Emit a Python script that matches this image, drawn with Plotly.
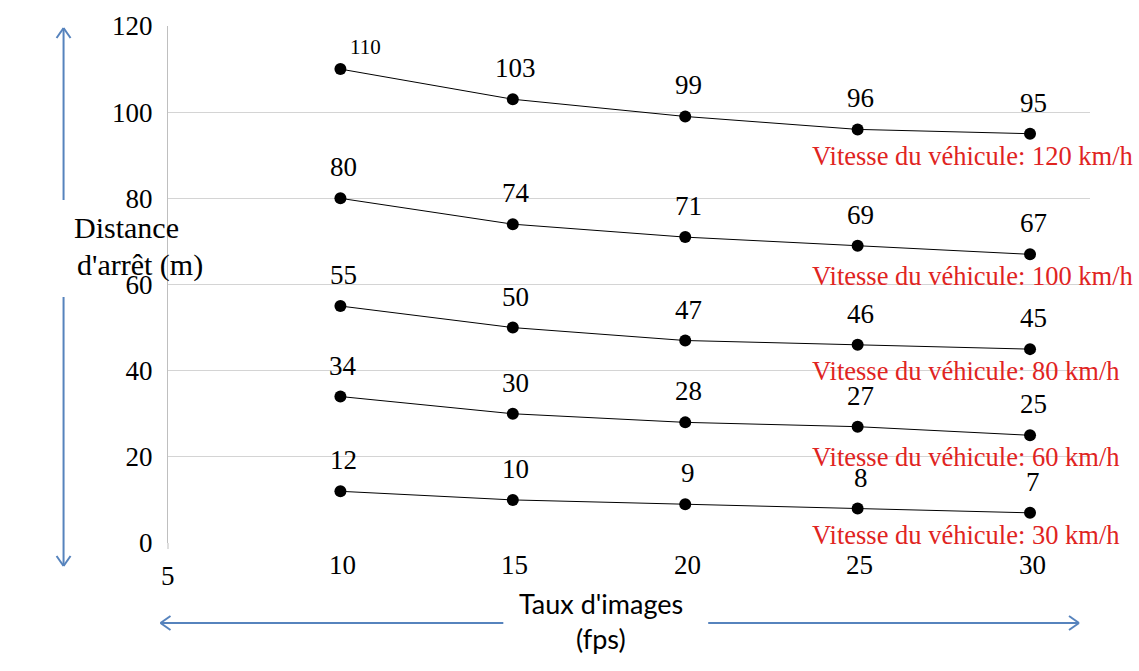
import plotly.graph_objects as go

# ---- data ----
fps = [10, 15, 20, 25, 30]
speeds = ["120 km/h", "100 km/h", "80 km/h", "60 km/h", "30 km/h"]
dist_120 = [110, 103, 99, 96, 95]
dist_100 = [80, 74, 71, 69, 67]
dist_80 = [55, 50, 47, 46, 45]
dist_60 = [34, 30, 28, 27, 25]
dist_30 = [12, 10, 9, 8, 7]
series = [dist_120, dist_100, dist_80, dist_60, dist_30]
y_ticks = [0, 20, 40, 60, 80, 100, 120]
x_ticks = [10, 15, 20, 25, 30]

W, H = 1139, 671
L, R, T, B = 167.5, 49, 26, 128
PW, PH = W - L - R, H - T - B

SERIF = "'Liberation Serif', 'Times New Roman', serif"
SANS = "Lato, sans-serif"
BLUE = "#5683bd"
RED = "#e0241f"

fig = go.Figure()
annotations = []
for vals, sp in zip(series, speeds):
    fig.add_trace(go.Scatter(
        x=fps, y=vals, mode="lines+markers",
        line=dict(color="black", width=1),
        marker=dict(color="black", size=12),
        showlegend=False, hoverinfo="skip"))
    for i, (xv, yv) in enumerate(zip(fps, vals)):
        small = (vals is dist_120 and i == 0)
        annotations.append(dict(
            x=xv, y=yv, xref="x", yref="y", text=str(yv), showarrow=False,
            xshift=25 if small else 3, yshift=22 if small else 31,
            font=dict(family=SERIF, size=21 if small else 27, color="black")))
    annotations.append(dict(
        x=fps[-1], y=vals[-1], xref="x", yref="y",
        text="Vitesse du véhicule: " + sp, showarrow=False,
        xanchor="left", xshift=-220, yshift=-22,
        font=dict(family=SERIF, size=26.5, color=RED)))

# x tick labels (5 sits lower, as in the original)
for xv in x_ticks:
    annotations.append(dict(x=xv, y=0, xref="x", yref="y", text=str(xv),
                            showarrow=False, xshift=2, yshift=-22,
                            font=dict(family=SERIF, size=27, color="black")))
annotations.append(dict(x=5, y=0, xref="x", yref="y", text="5",
                        showarrow=False, yshift=-33,
                        font=dict(family=SERIF, size=27, color="black")))


def px(xp):
    return (xp - L) / PW


def py(yp):
    return (H - B - yp) / PH


# axis titles
annotations += [
    dict(x=px(71), y=py(228), xref="paper", yref="paper", text="Distance",
         showarrow=False, font=dict(family=SERIF, size=30, color="black")),
    dict(x=px(74), y=py(265), xref="paper", yref="paper", text="d'arrêt (m)",
         showarrow=False, font=dict(family=SERIF, size=30, color="black")),
    dict(x=px(601), y=py(622), xref="paper", yref="paper", text="Taux d'images",
         showarrow=False, font=dict(family=SANS, size=27, color="black")),
    dict(x=px(601), y=py(657), xref="paper", yref="paper", text="(fps)",
         showarrow=False, font=dict(family=SANS, size=27, color="black")),
]

shapes = []


def seg(x0, y0, x1, y1):
    shapes.append(dict(type="line", xref="paper", yref="paper",
                       x0=px(x0), y0=py(y0), x1=px(x1), y1=py(y1),
                       line=dict(color=BLUE, width=2)))


# vertical arrows
seg(63, 28, 63, 200)
seg(63, 28, 56, 38)
seg(63, 28, 70, 38)
seg(63, 297, 63, 566)
seg(63, 566, 56, 556)
seg(63, 566, 70, 556)
# horizontal arrows
seg(160, 623, 503, 623)
seg(160, 623, 170, 616)
seg(160, 623, 170, 630)
seg(708, 623, 1079, 623)
seg(1079, 623, 1069, 616)
seg(1079, 623, 1069, 630)
# small tick under the origin
shapes.append(dict(type="line", xref="paper", yref="paper",
                   x0=0, x1=0, y0=0, y1=py(549),
                   line=dict(color="#bfbfbf", width=1)))

fig.update_layout(
    width=W, height=H,
    margin=dict(l=L, r=R, t=T, b=B),
    paper_bgcolor="white", plot_bgcolor="white",
    xaxis=dict(range=[5, 5 + PW / 34.5], showgrid=False, zeroline=False,
               showticklabels=False, showline=False, fixedrange=True),
    yaxis=dict(range=[0, 120], tickvals=y_ticks, showgrid=True,
               gridcolor="#d4d4d4", gridwidth=1, zeroline=False,
               showline=True, linecolor="#bfbfbf", linewidth=1,
               ticks="", ticklabelstandoff=9, fixedrange=True,
               tickfont=dict(family=SERIF, size=27, color="black")),
    annotations=annotations, shapes=shapes,
)

fig.write_html("out.html", config={"displayModeBar": False},
               post_script="document.body.style.margin='0px';document.body.style.overflow='hidden';")
